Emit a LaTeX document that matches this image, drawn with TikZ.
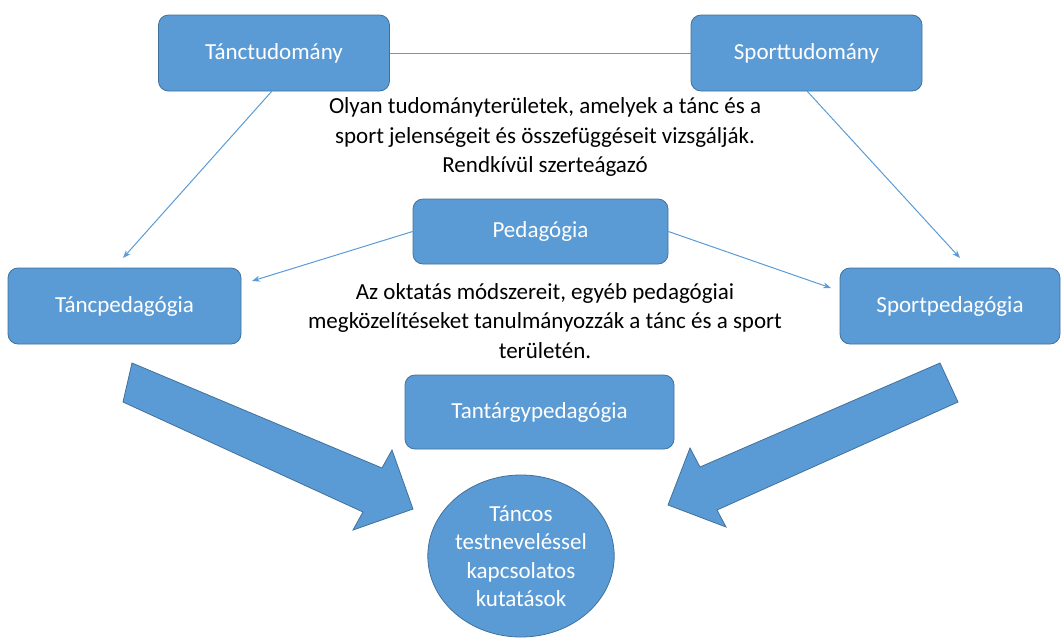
\documentclass[tikz,border=0pt]{standalone}
\usepackage{fontspec}
\setmainfont{Carlito}
\usetikzlibrary{arrows.meta,shapes.geometric}
\definecolor{boxblue}{HTML}{5B9BD5}
\definecolor{boxedge}{HTML}{41719C}
\begin{document}
\begin{tikzpicture}[x=1pt,y=-1pt,
  every node/.style={font=\fontsize{23}{29.5}\selectfont},
  bluebox/.style={draw=boxedge,line width=0.8pt,fill=boxblue,rounded corners=10pt,text=white,inner sep=0pt},
  link/.style={draw=boxblue,line width=1pt},
  linkarrow/.style={link,-{Stealth[length=8pt,width=6pt]}},
  bigarrow/.style={fill=boxblue,draw=boxedge,line width=0.8pt,line join=miter},
  note/.style={align=center,text=black}]
\useasboundingbox (0,0) rectangle (1062,641);

\node[bluebox,minimum width=231pt,minimum height=76pt] (tt) at (274,53) {Tánctudomány};
\node[bluebox,minimum width=231pt,minimum height=76pt] (st) at (806.5,53) {Sporttudomány};
\node[bluebox,minimum width=233pt,minimum height=76pt] (tp) at (124.5,306) {Táncpedagógia};
\node[bluebox,minimum width=220pt,minimum height=76pt] (sp) at (950,306) {Sportpedagógia};
\node[bluebox,minimum width=255pt,minimum height=65pt] (ped) at (540.5,231.5) {Pedagógia};
\node[bluebox,minimum width=269pt,minimum height=74pt] (tgp) at (539.5,412) {Tantárgypedagógia};
\node[ellipse,draw=boxedge,line width=0.8pt,fill=boxblue,text=white,inner sep=0pt,
      minimum width=172pt,minimum height=162pt,align=center,
      font=\fontsize{23}{28.5}\selectfont] (kut) at (521,556)
      {Táncos\\testneveléssel\\kapcsolatos\\kutatások};

\node[note] (n1) at (545,137) {Olyan tudományterületek, amelyek a tánc és a\\sport jelenségeit és összefüggéseit vizsgálják.\\Rendkívül szerteágazó};
\node[note] (n2) at (545,321) {Az oktatás módszereit, egyéb pedagógiai\\megközelítéseket tanulmányozzák a tánc és a sport\\területén.};

% connectors
\coordinate (tpin) at (123,258);
\coordinate (spin) at (960,258);
\coordinate (pl) at (252,281);
\coordinate (pr) at (831,288);
\draw[link] (tt.east) -- (st.west);
\draw[linkarrow] (272,91) -- (tpin);
\draw[linkarrow] (807,91) -- (spin);
\draw[linkarrow] (ped.west) -- (pl);
\draw[linkarrow] (ped.east) -- (pr);

% block arrows pointing at the research ellipse
\draw[bigarrow] (132,363) -- (382,468) -- (392,450) -- (413,509) -- (353,530) -- (363,512) -- (123,402) -- cycle;
\draw[bigarrow] (940,363) -- (700,467) -- (690,448) -- (668,505) -- (726,527) -- (717,510) -- (958,402) -- cycle;
\end{tikzpicture}
\end{document}
